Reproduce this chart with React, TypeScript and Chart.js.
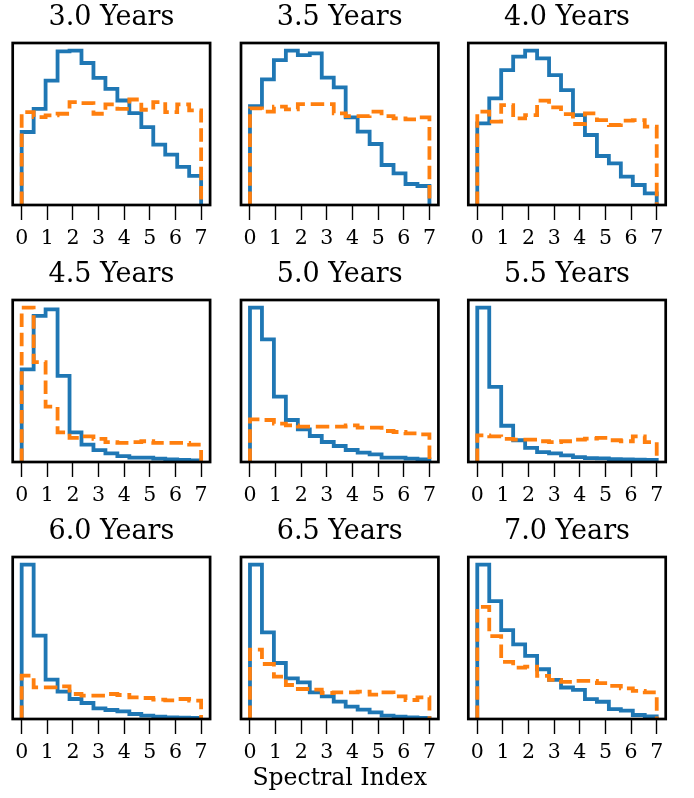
import React, { useEffect, useRef } from "react";
import { Chart, registerables } from "chart.js";
Chart.register(...registerables);

// Histogram bin edges (15 bins spanning 0..7) and x ticks
const BIN_EDGES = [0, 0.467, 0.933, 1.4, 1.867, 2.333, 2.8, 3.267, 3.733, 4.2, 4.667, 5.133, 5.6, 6.067, 6.533, 7];
const X_TICKS = [0, 1, 2, 3, 4, 5, 6, 7];
const TITLES = ["3.0 Years", "3.5 Years", "4.0 Years", "4.5 Years", "5.0 Years", "5.5 Years", "6.0 Years", "6.5 Years", "7.0 Years"];
const X_LABEL = "Spectral Index";

// Blue (solid) series, one per panel
const blue30 = [220, 290, 375, 463, 465, 428, 383, 350, 315, 277, 235, 182, 152, 115, 88];
const blue35 = [297, 377, 435, 463, 450, 455, 382, 353, 263, 220, 183, 120, 95, 63, 57];
const blue40 = [245, 320, 405, 445, 463, 440, 390, 345, 270, 210, 147, 125, 85, 60, 35];
const blue45 = [281, 443, 463, 261, 90, 53, 36, 26, 18, 13, 13, 10, 8, 6, 5];
const blue50 = [463, 368, 196, 126, 98, 78, 60, 48, 36, 28, 23, 13, 13, 10, 8];
const blue55 = [468, 228, 110, 66, 43, 30, 26, 20, 15, 12, 11, 9, 8, 7, 6];
const blue60 = [463, 250, 118, 82, 60, 48, 32, 27, 23, 15, 10, 7, 5, 4, 3];
const blue65 = [463, 260, 168, 122, 110, 80, 68, 52, 37, 28, 20, 10, 7, 5, 3];
const blue70 = [465, 355, 268, 225, 190, 150, 118, 95, 88, 60, 52, 30, 25, 12, 8];

// Orange (dashed) series, one per panel
const orange30 = [280, 265, 270, 275, 310, 307, 275, 303, 290, 318, 287, 310, 280, 303, 285];
const orange35 = [290, 280, 295, 287, 303, 303, 303, 275, 267, 267, 280, 267, 260, 257, 263];
const orange40 = [280, 250, 300, 260, 270, 313, 293, 273, 243, 275, 255, 240, 253, 255, 235];
const orange45 = [468, 303, 168, 90, 73, 78, 70, 60, 58, 60, 63, 58, 58, 58, 53];
const orange50 = [128, 126, 115, 110, 106, 106, 106, 106, 110, 103, 103, 93, 90, 86, 83];
const orange55 = [81, 78, 70, 68, 68, 63, 60, 63, 68, 71, 73, 66, 63, 78, 60];
const orange60 = [130, 95, 95, 98, 75, 70, 70, 75, 72, 65, 63, 58, 56, 60, 55];
const orange65 = [208, 165, 127, 102, 90, 88, 78, 80, 80, 82, 73, 80, 68, 57, 65];
const orange70 = [338, 250, 172, 155, 158, 130, 118, 112, 115, 115, 108, 100, 92, 85, 80];

const BLUE = [blue30, blue35, blue40, blue45, blue50, blue55, blue60, blue65, blue70];
const ORANGE = [orange30, orange35, orange40, orange45, orange50, orange55, orange60, orange65, orange70];

const FONT = "DejaVu Serif";
const COL_LEFT = [12.7, 241, 468.3];
const ROW_TOP = [43, 300, 557];
const PLOT_W = 197.4;
const PLOT_H = 162;
const TITLE_H = 43;

function stepPoints(vals: number[]) {
  const pts: { x: number; y: number }[] = [{ x: BIN_EDGES[0], y: 0 }];
  vals.forEach((v, k) => pts.push({ x: BIN_EDGES[k], y: v }));
  const last = BIN_EDGES[BIN_EDGES.length - 1];
  pts.push({ x: last, y: vals[vals.length - 1] });
  pts.push({ x: last, y: 0 });
  return pts;
}

const framePlugin = {
  id: "frame",
  afterDatasetsDraw(chart: any) {
    const { ctx, chartArea: a } = chart;
    ctx.save();
    ctx.strokeStyle = "#000";
    ctx.lineWidth = 2.7;
    ctx.strokeRect(a.left, a.top, a.right - a.left, a.bottom - a.top);
    ctx.restore();
  },
};

function Panel({ i }: { i: number }) {
  const ref = useRef<HTMLCanvasElement>(null);
  const col = i % 3;
  const row = Math.floor(i / 3);
  const L = COL_LEFT[col];
  const canvasLeft = Math.floor(L) - 10;
  const canvasW = 218;
  const padLeft = L - canvasLeft;
  const padRight = canvasW - padLeft - PLOT_W;
  const hasXLabel = i === 7;
  const xH = hasXLabel ? 74 : 50;
  const canvasTop = ROW_TOP[row] - TITLE_H;
  const canvasH = TITLE_H + PLOT_H + xH;

  useEffect(() => {
    if (!ref.current) return;
    const blue = BLUE[i];
    const orange = ORANGE[i];
    const ymax = Math.max(...blue, ...orange) * 1.05;
    const chart = new Chart(ref.current, {
      type: "line",
      data: {
        datasets: [
          {
            data: stepPoints(blue),
            borderColor: "#1f77b4",
            borderWidth: 3.8,
            stepped: "before",
            pointRadius: 0,
            fill: false,
            order: 2,
            borderJoinStyle: "miter",
            clip: false as any,
          },
          {
            data: stepPoints(orange),
            borderColor: "#ff7f0e",
            borderWidth: 3.8,
            borderDash: [13.5, 5.8],
            borderCapStyle: "butt",
            stepped: "before",
            pointRadius: 0,
            fill: false,
            order: 1,
            borderJoinStyle: "miter",
            clip: false as any,
          },
        ],
      },
      options: {
        responsive: false,
        animation: false,
        events: [],
        layout: { padding: { left: padLeft, right: padRight, top: 0, bottom: 0 } },
        plugins: {
          legend: { display: false },
          tooltip: { enabled: false },
          title: {
            display: true,
            text: TITLES[i],
            color: "#000",
            font: { family: FONT, size: 27, weight: "normal", lineHeight: 1.2 },
            padding: { top: 1.8, bottom: 8.8 },
          },
        },
        scales: {
          x: {
            type: "linear",
            min: -0.35,
            max: 7.35,
            afterBuildTicks: (scale: any) => {
              scale.ticks = X_TICKS.map((v) => ({ value: v }));
            },
            afterFit: (scale: any) => {
              scale.height = xH;
            },
            ticks: {
              color: "#000",
              font: { family: FONT, size: 20.5 },
              padding: 6,
              maxRotation: 0,
              autoSkip: false,
              callback: (v: any) => String(v),
            },
            grid: {
              display: true,
              drawOnChartArea: false,
              drawTicks: true,
              tickLength: 15,
              tickWidth: 1.4,
              tickColor: "#000",
            },
            border: { display: false },
            title: {
              display: hasXLabel,
              text: X_LABEL,
              color: "#000",
              font: { family: FONT, size: 23.5, lineHeight: 1.2 },
              padding: { top: 0, bottom: 0 },
            },
          },
          y: {
            display: false,
            min: 0,
            max: ymax,
          },
        },
      },
      plugins: [framePlugin],
    } as any);
    return () => chart.destroy();
  }, [i]);

  return (
    <canvas
      ref={ref}
      width={canvasW}
      height={canvasH}
      style={{ position: "absolute", left: canvasLeft, top: canvasTop, width: canvasW, height: canvasH }}
    />
  );
}

export default function App() {
  return (
    <div style={{ position: "fixed", left: 0, top: 0, width: 694, height: 798, background: "#fff", overflow: "hidden" }}>
      {TITLES.map((_, i) => (
        <Panel key={i} i={i} />
      ))}
    </div>
  );
}
